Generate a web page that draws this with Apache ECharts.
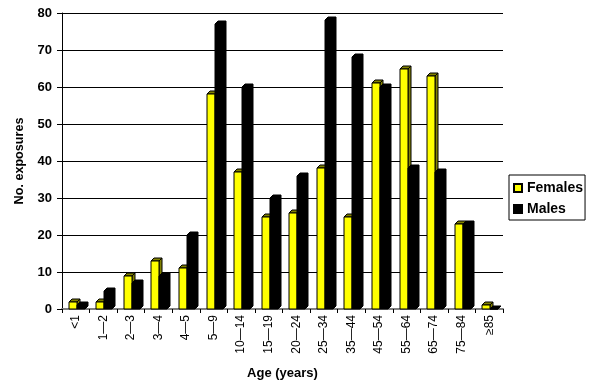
<!DOCTYPE html>
<html><head><meta charset="utf-8">
<script src="https://cdn.jsdelivr.net/npm/echarts@6/dist/echarts.min.js"></script>
<style>html,body{margin:0;padding:0;background:#fff}#c{width:593px;height:385px}</style>
</head><body><div id="c"></div>
<script>
var categories = ['<1','1\u20142','2\u20143','3\u20144','4\u20145','5\u20149','10\u201414','15\u201419','20\u201424','25\u201434','35\u201444','45\u201454','55\u201464','65\u201474','75\u201484','\u226585'];
var females = [2,2,9,13,11,58,37,25,26,38,25,61,65,63,23,1];
var males = [1,5,7,9,20,77,60,30,36,78,68,60,38,37,23,0];
var yTicks = {min:0, max:80, interval:10};

var chart = echarts.init(document.getElementById('c'), null, {renderer:'canvas'});
var font = 'Arial, "Liberation Sans", sans-serif';

function make3D(offsetFn, front, shade){
  return function(params, api){
    var idx = api.value(0), val = api.value(1);
    var top = api.coord([idx, val]);
    var base = api.coord([idx, 0]);
    var band = api.size([1, 0])[0];
    var w = Math.round(band * 0.29);
    var d = 3;
    var x = Math.round(top[0] + offsetFn(band, w));
    var yt = Math.round(top[1]), yb = Math.round(base[1]);
    var sty = {stroke:'#000', lineWidth:1};
    return {type:'group', children:[
      {type:'polygon', shape:{points:[[x+w,yt],[x+w+d,yt-d],[x+w+d,yb-d],[x+w,yb]]},
       style:Object.assign({fill:shade}, sty)},
      {type:'polygon', shape:{points:[[x,yt],[x+d,yt-d],[x+w+d,yt-d],[x+w,yt]]},
       style:Object.assign({fill:shade}, sty)},
      {type:'rect', shape:{x:x, y:yt, width:w, height:yb-yt},
       style:Object.assign({fill:front}, sty)}
    ]};
  };
}

chart.setOption({
  animation:false,
  backgroundColor:'#fff',
  grid:{left:62, right:90, top:13, bottom:72},
  legend:{
    orient:'vertical', left:509, top:175,
    borderColor:'#000', borderWidth:1, padding:[6,2,4,4],
    itemWidth:8, itemHeight:8, itemGap:7, icon:'rect',
    textStyle:{fontFamily:font, fontWeight:'bold', fontSize:14, lineHeight:14, color:'#000'},
    data:['Females','Males']
  },
  xAxis:{
    type:'category', data:categories,
    name:'Age (years)', nameLocation:'middle', nameGap:58,
    nameTextStyle:{fontFamily:font, fontWeight:'bold', fontSize:13, color:'#000'},
    axisLine:{lineStyle:{color:'#808080', width:2}},
    axisTick:{show:true, length:4, lineStyle:{color:'#000'}},
    axisLabel:{rotate:90, fontFamily:font, fontSize:12, color:'#000', margin:6, interval:0}
  },
  yAxis:{
    type:'value', min:yTicks.min, max:yTicks.max, interval:yTicks.interval,
    name:'No. exposures', nameLocation:'middle', nameGap:36,
    nameTextStyle:{fontFamily:font, fontWeight:'bold', fontSize:12.6, color:'#000'},
    axisLine:{show:true, lineStyle:{color:'#000'}},
    axisTick:{show:true, length:5, lineStyle:{color:'#000'}},
    axisLabel:{fontFamily:font, fontWeight:'bold', fontSize:13, color:'#000', margin:10},
    splitLine:{lineStyle:{color:'#000', width:1}}
  },
  series:[
    {name:'Females', type:'custom', encode:{x:0, y:1},
     data:females.map(function(v,i){return [i,v];}),
     itemStyle:{color:'#ffff00', borderColor:'#000', borderWidth:1},
     renderItem:make3D(function(band,w){return -w + 1;}, '#ffff00', '#808000')},
    {name:'Males', type:'custom', encode:{x:0, y:1},
     data:males.map(function(v,i){return [i,v];}),
     itemStyle:{color:'#000', borderColor:'#000', borderWidth:1},
     renderItem:make3D(function(band,w){return 1;}, '#000', '#000')}
  ]
});
</script></body></html>
